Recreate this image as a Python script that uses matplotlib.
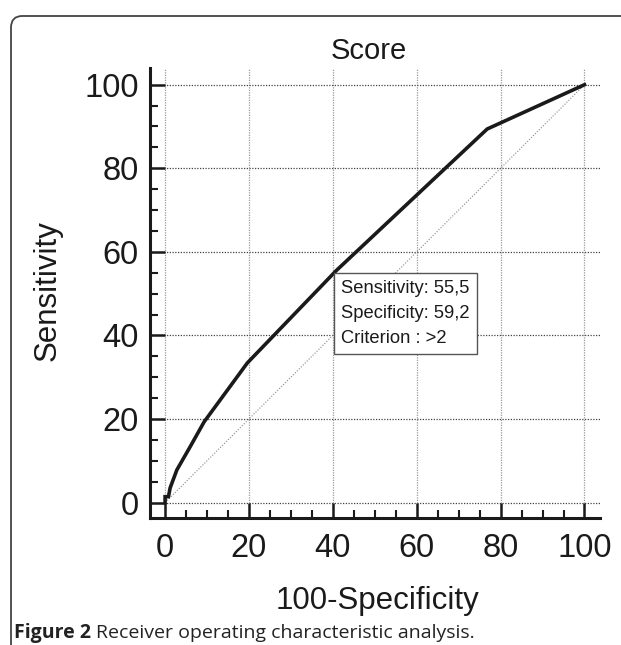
import matplotlib
matplotlib.use("Agg")
import matplotlib.pyplot as plt
from matplotlib.patches import FancyBboxPatch
from matplotlib.ticker import MultipleLocator

# ROC curve points (100-Specificity, Sensitivity)
fpr = [0, 0, 0.8, 1.2, 2.8, 6.0, 9.3, 19.6, 40.8, 61.5, 76.8, 100]
tpr = [0, 1.4, 1.4, 3.5, 7.8, 13.4, 19.3, 33.4, 55.5, 75.0, 89.4, 100]

crit_sens = "55,5"
crit_spec = "59,2"
crit_value = ">2"

plt.rcParams['font.family'] = ['Liberation Sans', 'DejaVu Sans']

W, H = 621, 645
fig = plt.figure(figsize=(W / 100, H / 100), dpi=100)

# rounded frame of the journal figure
frame = FancyBboxPatch((11 / W, -0.2), 1.2, 1 - 16 / H + 0.2,
                       boxstyle="round,pad=0,rounding_size=0.018",
                       transform=fig.transFigure, facecolor='none',
                       edgecolor='#444444', linewidth=1.3)
fig.patches.append(frame)

ax = fig.add_axes([150 / W, (H - 518) / H, 450 / W, 450 / H])
ax.set_xlim(-3.6, 103.7)
ax.set_ylim(-3.7, 104.0)

# grid
for v in range(0, 101, 20):
    ax.axvline(v, color='#9a9a9a', lw=0.9, ls=(0, (1, 1)), zorder=1)
    ax.axhline(v, color='#444444', lw=0.9, ls=(0, (1, 1.2)), zorder=1)

# reference diagonal
ax.plot([0, 100], [0, 100], color='#888888', lw=0.8, ls=(0, (1, 1.5)), zorder=2)

# ROC curve
ax.plot(fpr, tpr, color='#1a1a1a', lw=2.6, solid_joinstyle='miter', zorder=3)

ax.text(42.0, 53.2,
        "Sensitivity: " + crit_sens + "\nSpecificity: " + crit_spec + "\nCriterion : " + crit_value,
        ha='left', va='top', fontsize=13.2, color='#1a1a1a', linespacing=1.6,
        bbox=dict(boxstyle='square,pad=0.4', facecolor='white', edgecolor='#555555', lw=1.0),
        zorder=4)

for s in ['top', 'right']:
    ax.spines[s].set_visible(False)
for s in ['left', 'bottom']:
    ax.spines[s].set_linewidth(2.2)
    ax.spines[s].set_color('#1a1a1a')

ax.xaxis.set_major_locator(MultipleLocator(20))
ax.yaxis.set_major_locator(MultipleLocator(20))
ax.set_xticks([v for v in range(0, 101, 5) if v % 20], minor=True)
ax.set_yticks([v for v in range(0, 101, 5) if v % 20], minor=True)
ax.tick_params(which='major', direction='in', length=11, width=1.8, color='#1a1a1a',
               labelsize=23.5, labelcolor='#1a1a1a')
ax.tick_params(which='minor', direction='in', length=6, width=1.5, color='#1a1a1a')
ax.tick_params(axis='x', which='major', pad=11)
ax.tick_params(axis='y', which='major', pad=8)

fig.text(369 / W, 1 - 51 / H, "Score", ha='center', va='center', fontsize=21, color='#1a1a1a')
fig.text(377 / W, 1 - 601 / H, "100-Specificity", ha='center', va='center', fontsize=22.5, color='#1a1a1a')
fig.text(48 / W, 1 - 291 / H, "Sensitivity", ha='center', va='center', fontsize=22.5,
         rotation=90, color='#1a1a1a')

# caption: bold label followed by the normal text
cap_font = ['Open Sans', 'DejaVu Sans']
t1 = fig.text(14 / W, 1 - 633 / H, "Figure 2", ha='left', va='center', fontsize=14,
              fontweight='bold', family=cap_font, color='#222222')
renderer = fig.canvas.get_renderer()
x_end = t1.get_window_extent(renderer).x1
fig.text((x_end + 5) / W, 1 - 633 / H, "Receiver operating characteristic analysis.", ha='left',
         va='center', fontsize=14, family=cap_font, color='#222222')

fig.savefig("out.png", dpi=100)
